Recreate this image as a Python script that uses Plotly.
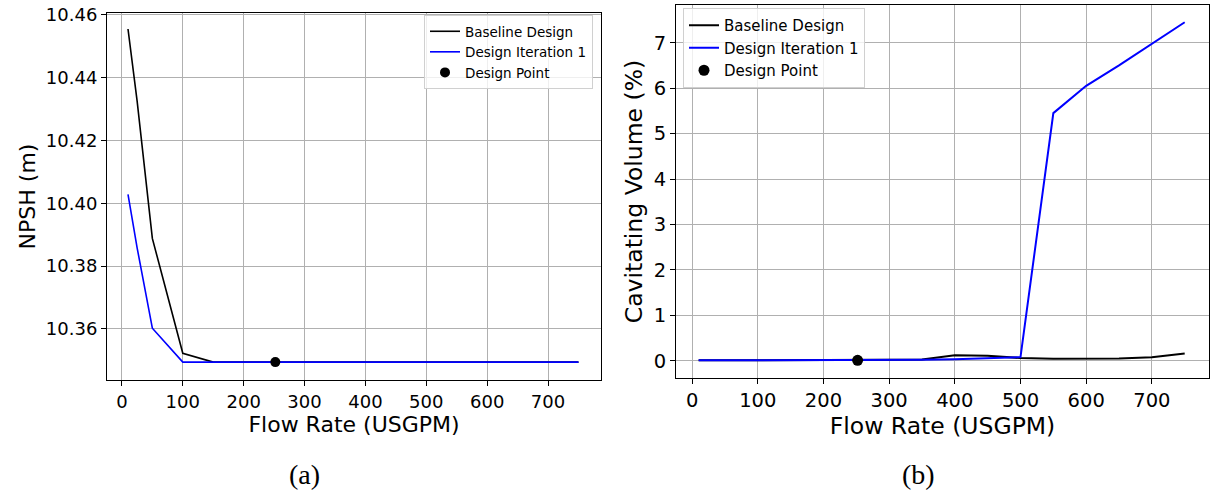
import plotly.graph_objects as go

# Flow rates (USGPM) at which both designs were evaluated
flow = [10, 25, 50, 100, 150, 200, 250, 300, 350, 400, 450, 500, 550, 600, 650, 700, 750]

# Net positive suction head (m)
npsh_baseline = [10.4555, 10.4325, 10.3888, 10.3522, 10.3494, 10.3494, 10.3494, 10.3494, 10.3494,
                 10.3494, 10.3494, 10.3494, 10.3494, 10.3494, 10.3494, 10.3494, 10.3494]
npsh_iter1 = [10.4028, 10.3858, 10.3602, 10.3494, 10.3494, 10.3494, 10.3494, 10.3494, 10.3494,
              10.3494, 10.3494, 10.3494, 10.3494, 10.3494, 10.3494, 10.3494, 10.3494]

# Cavitating volume (%)
cav_baseline = [0.01, 0.01, 0.01, 0.01, 0.01, 0.01, 0.015, 0.02, 0.03, 0.12, 0.11, 0.06,
                0.045, 0.045, 0.05, 0.08, 0.16]
cav_iter1 = [0.01, 0.01, 0.01, 0.01, 0.01, 0.01, 0.01, 0.01, 0.02, 0.035, 0.05, 0.08,
             5.45, 6.05, 6.5, 6.97, 7.45]

# Design point
design_flow = [252]
design_npsh = [10.3494]
design_cav = [0.01]

W, H = 1211, 491
FONT = "DejaVu Sans"
GRID = "#b0b0b0"

fig = go.Figure()

# ---- panel (a): NPSH ----
fig.add_trace(go.Scatter(x=flow, y=npsh_baseline, mode="lines", name="Baseline Design",
                         line=dict(color="black", width=1.6), xaxis="x", yaxis="y", legend="legend"))
fig.add_trace(go.Scatter(x=flow, y=npsh_iter1, mode="lines", name="Design Iteration 1",
                         line=dict(color="#0000ff", width=1.6), xaxis="x", yaxis="y", legend="legend"))
fig.add_trace(go.Scatter(x=design_flow, y=design_npsh, mode="markers", name="Design Point",
                         marker=dict(color="black", size=10), xaxis="x", yaxis="y", legend="legend"))

# ---- panel (b): cavitating volume ----
fig.add_trace(go.Scatter(x=flow, y=cav_baseline, mode="lines", name="Baseline Design",
                         line=dict(color="black", width=2), xaxis="x2", yaxis="y2", legend="legend2"))
fig.add_trace(go.Scatter(x=flow, y=cav_iter1, mode="lines", name="Design Iteration 1",
                         line=dict(color="#0000ff", width=2), xaxis="x2", yaxis="y2", legend="legend2"))
fig.add_trace(go.Scatter(x=design_flow, y=design_cav, mode="markers", name="Design Point",
                         marker=dict(color="black", size=11), xaxis="x2", yaxis="y2", legend="legend2"))


def px_x(p):
    return p / W


def px_y(p):
    return 1 - p / H


axis_common = dict(showline=True, linecolor="black", linewidth=1, mirror=True,
                   showgrid=True, gridcolor=GRID, gridwidth=1, automargin=False,
                   ticks="outside", ticklen=5, tickcolor="black", zeroline=False)

fig.update_layout(
    width=W, height=H,
    margin=dict(l=0, r=0, t=0, b=0, pad=0),
    paper_bgcolor="white", plot_bgcolor="white",
    font=dict(family=FONT, color="black"),
    xaxis=dict(domain=[px_x(107), px_x(601)], range=[-24.5, 787], dtick=100, anchor="y",
               tickfont=dict(size=18),
               title=dict(text="Flow Rate (USGPM)", font=dict(size=22), standoff=0),
               **axis_common),
    yaxis=dict(domain=[px_y(380), px_y(13)], range=[10.3437, 10.4606], dtick=0.02,
               tickformat=".2f", anchor="x", tickfont=dict(size=18),
               title=dict(text="NPSH (m)", font=dict(size=22), standoff=4),
               **axis_common),
    xaxis2=dict(domain=[px_x(676), px_x(1209)], range=[-24.5, 787], dtick=100, anchor="y2",
                tickfont=dict(size=19.5),
                title=dict(text="Flow Rate (USGPM)", font=dict(size=23.5), standoff=0),
                **axis_common),
    yaxis2=dict(domain=[px_y(377.7), px_y(5.3)], range=[-0.3725, 7.8225], dtick=1,
                anchor="x2", tickfont=dict(size=19.5),
                title=dict(text="Cavitating Volume (%)", font=dict(size=23.5), standoff=4),
                **axis_common),
    legend=dict(x=px_x(593), y=px_y(15), xanchor="right", yanchor="top",
                bgcolor="rgba(255,255,255,0.8)", bordercolor="#d0d0d0", borderwidth=1,
                font=dict(size=13.5, family=FONT)),
    legend2=dict(x=px_x(683), y=px_y(8), xanchor="left", yanchor="top",
                 bgcolor="rgba(255,255,255,0.8)", bordercolor="#d0d0d0", borderwidth=1,
                 font=dict(size=15, family=FONT)),
    annotations=[
        dict(text="(a)", x=px_x(304), y=px_y(474), xref="paper", yref="paper",
             xanchor="center", yanchor="middle", showarrow=False,
             font=dict(family="Liberation Serif", size=28)),
        dict(text="(b)", x=px_x(919), y=px_y(474), xref="paper", yref="paper",
             xanchor="center", yanchor="middle", showarrow=False,
             font=dict(family="Liberation Serif", size=28)),
    ],
)

fig.write_html("out.html")
